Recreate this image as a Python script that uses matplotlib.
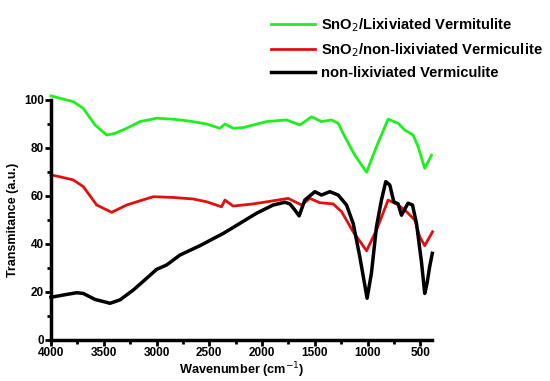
import matplotlib
matplotlib.use("Agg")
import matplotlib.pyplot as plt
from matplotlib.ticker import MultipleLocator

plt.rcParams['font.family'] = ['Liberation Sans', 'DejaVu Sans']

green_x = [4000, 3789, 3694, 3583, 3472, 3394, 3283, 3157, 3000, 2842, 2684, 2526, 2400, 2352,
           2274, 2179, 1958, 1768, 1642, 1531, 1437, 1342, 1279, 1216, 1121, 1010, 916, 806,
           711, 648, 569, 522, 459, 395]
green_y = [101.7, 99.3, 96.5, 89.6, 85.4, 86.1, 88.2, 91.0, 92.4, 92.0, 91.2, 90.0, 88.2, 90.0,
           88.2, 88.5, 91.0, 91.7, 89.6, 93.0, 91.0, 91.7, 90.3, 84.7, 77.0, 69.9, 80.6, 92.0,
           90.3, 87.5, 85.4, 80.6, 71.5, 77.0]

red_x = [4000, 3915, 3789, 3694, 3567, 3425, 3283, 3157, 3031, 2842, 2653, 2526, 2384, 2352,
         2274, 2084, 1895, 1753, 1626, 1547, 1453, 1327, 1247, 1137, 1010, 916, 806, 727,
         648, 553, 506, 459, 385]
red_y = [68.75, 68.0, 66.7, 63.9, 56.25, 53.2, 56.25, 58.0, 59.7, 59.4, 58.75, 57.6, 55.5, 58.3,
         55.8, 56.7, 58.0, 59.0, 56.25, 59.0, 57.2, 56.7, 53.5, 45.1, 37.2, 45.8, 58.3, 56.7,
         54.2, 50.0, 43.0, 39.3, 45.1]

black_x = [4000, 3883, 3757, 3694, 3583, 3441, 3347, 3221, 3094, 3000, 2905, 2778, 2589, 2368,
           2210, 2053, 1895, 1784, 1737, 1690, 1649, 1595, 1500, 1437, 1358, 1279, 1200, 1137,
           1074, 1005, 964, 916, 869, 828, 790, 752, 711, 679, 617, 575, 537, 490, 459, 437,
           412, 387]
black_y = [17.8, 18.75, 19.7, 19.4, 16.9, 15.3, 16.7, 20.8, 25.7, 29.4, 31.25, 35.4, 39.3, 44.4,
           48.6, 52.8, 56.25, 57.4, 56.7, 54.2, 51.7, 58.3, 61.8, 60.4, 61.8, 60.4, 56.25, 48.6,
           34.7, 17.4, 27.8, 47.2, 58.3, 66.0, 64.6, 57.6, 56.7, 52.0, 57.0, 56.25, 48.6, 32.6,
           19.4, 23.6, 30.6, 36.1]

labels = ["SnO$_2$/Lixiviated Vermitulite", "SnO$_2$/non-lixiviated Vermiculite",
          "non-lixiviated Vermiculite"]

fig = plt.figure(figsize=(5.5, 3.81), dpi=100)
ax = fig.add_axes([51/550, 1-340/381, (432-51)/550, 240/381])

l1, = ax.plot(green_x, green_y, color='#1df01d', lw=2.0, clip_on=False)
l2, = ax.plot(red_x, red_y, color='#e01010', lw=2.0, clip_on=False)
l3, = ax.plot(black_x, black_y, color='black', lw=2.5, clip_on=False)

ax.set_xlim(4000, 390)
ax.set_ylim(0, 100)
ax.xaxis.set_major_locator(MultipleLocator(500))
ax.xaxis.set_minor_locator(MultipleLocator(250))
ax.yaxis.set_major_locator(MultipleLocator(20))
ax.yaxis.set_minor_locator(MultipleLocator(10))
for s in ['top', 'right']:
    ax.spines[s].set_visible(False)
for s in ['left', 'bottom']:
    ax.spines[s].set_linewidth(2.5)
ax.tick_params(which='major', direction='out', length=4, width=2, labelsize=8.5, pad=1)
ax.tick_params(which='minor', direction='out', length=3, width=2)
for lab in ax.get_xticklabels() + ax.get_yticklabels():
    lab.set_fontweight('bold')

ax.set_xlabel("Wavenumber (cm$^{-1}$)", fontsize=9.2, fontweight='bold', labelpad=1)
ax.set_ylabel("Transmitance (a.u.)", fontsize=9, fontweight='bold', labelpad=4)

fig.legend([l1, l2, l3], labels, loc='upper left', bbox_to_anchor=(258/550, 1-3/381),
           frameon=False, handlelength=3.0, handletextpad=0.4,
           labelspacing=0.5, prop={'weight': 'bold', 'size': 10.6})

fig.savefig("out.png", dpi=100)
